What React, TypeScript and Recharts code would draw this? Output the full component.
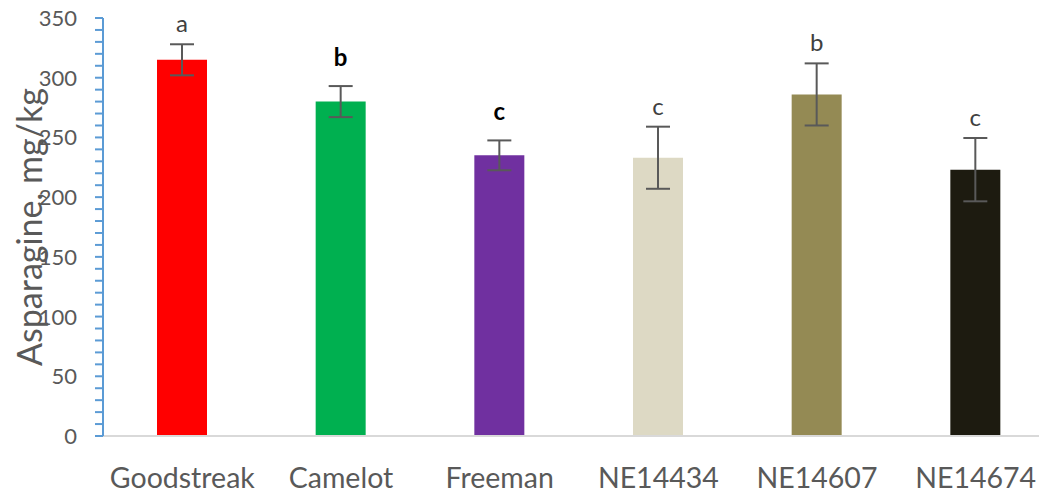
import { BarChart, Bar, XAxis, YAxis, Cell, ErrorBar, LabelList } from "recharts";

const lines = ["Goodstreak", "Camelot", "Freeman", "NE14434", "NE14607", "NE14674"];
const asparagine = [315, 280, 235, 233, 286, 223];
const stdErr = [13, 13, 12.5, 26, 26, 26.5];
const letters = ["a", "b", "c", "c", "b", "c"];
const yTicks = [0, 50, 100, 150, 200, 250, 300, 350];

const COLORS = ["#FF0000", "#00B050", "#7030A0", "#DDD9C4", "#948A54", "#1D1B10"];
// the Camelot and Freeman letters were typed darker/bolder in the original
const DARK_LETTER = [false, true, true, false, false, false];

const data = lines.map((name, i) => ({
  name,
  value: asparagine[i],
  err: stdErr[i],
  letter: letters[i],
}));

const minorTicks: number[] = [];
for (let v = 0; v <= 350; v += 10) minorTicks.push(v);

const FONT = "Lato, 'Open Sans', sans-serif";

const YTick = (props: any) => {
  const { x, y, payload } = props;
  if (!yTicks.includes(payload.value)) return null;
  return (
    <text x={x} y={y} dy={8} textAnchor="end" fontSize={22} fill="#595959" fontFamily={FONT}>
      {payload.value}
    </text>
  );
};

const XTick = (props: any) => {
  const { x, y, payload } = props;
  return (
    <text x={x} y={y + 52} textAnchor="middle" fontSize={28.5} fill="#595959" fontFamily={FONT}>
      {payload.value}
    </text>
  );
};

const LetterLabel = (props: any) => {
  const { x, y, width, height, value, index } = props;
  const perUnit = height / asparagine[index];
  const errTop = y - stdErr[index] * perUnit;
  const dark = DARK_LETTER[index];
  return (
    <text
      x={x + width / 2}
      y={errTop - (dark ? 20 : 12)}
      textAnchor="middle"
      fontSize={24}
      fontWeight={dark ? 700 : 400}
      fill={dark ? "#000000" : "#404040"}
      fontFamily={FONT}
    >
      {value}
    </text>
  );
};

const YLabel = (props: any) => {
  const { viewBox } = props;
  const cx = viewBox.x + 28;
  const cy = viewBox.y + viewBox.height / 2;
  return (
    <text
      x={cx}
      y={cy}
      transform={`rotate(-90, ${cx}, ${cy})`}
      textAnchor="middle"
      dominantBaseline="central"
      fontSize={34}
      fill="#595959"
      fontFamily={FONT}
    >
      Asparagine, mg/kg
    </text>
  );
};

export default function App() {
  return (
    <div
      style={{
        position: "absolute",
        left: 0,
        top: 0,
        width: 1039,
        height: 492,
        overflow: "hidden",
        background: "#fff",
      }}
    >
      <BarChart
        width={1055}
        height={492}
        data={data}
        margin={{ top: 18, right: 0, bottom: 0, left: 0 }}
        barSize={50}
      >
        <XAxis
          dataKey="name"
          height={56}
          tickLine={false}
          tickSize={0}
          tickMargin={0}
          axisLine={{ stroke: "#D9D9D9", strokeWidth: 2 }}
          tick={<XTick />}
          interval={0}
        />
        <YAxis
          width={103}
          domain={[0, 350]}
          ticks={minorTicks}
          interval={0}
          tickSize={8}
          tickMargin={18}
          tickLine={{ stroke: "#5B9BD5", strokeWidth: 2 }}
          axisLine={{ stroke: "#5B9BD5", strokeWidth: 2 }}
          tick={<YTick />}
          label={<YLabel />}
        />
        <Bar dataKey="value" isAnimationActive={false}>
          {data.map((_, i) => (
            <Cell key={i} fill={COLORS[i]} />
          ))}
          <ErrorBar
            dataKey="err"
            width={12}
            stroke="#595959"
            strokeWidth={2}
            direction="y"
            isAnimationActive={false}
          />
          <LabelList dataKey="letter" content={<LetterLabel />} />
        </Bar>
      </BarChart>
    </div>
  );
}
